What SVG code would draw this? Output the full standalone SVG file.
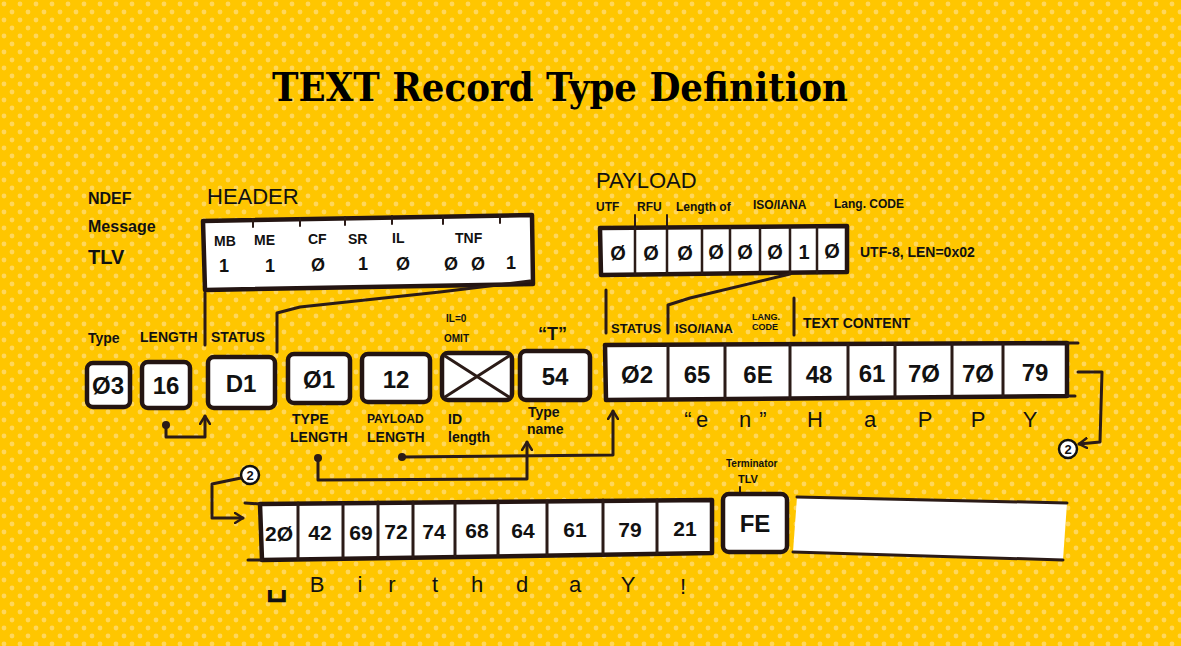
<svg xmlns="http://www.w3.org/2000/svg" width="1181" height="646" viewBox="0 0 1181 646">
<defs>
<pattern id="dots" width="16" height="16" patternUnits="userSpaceOnUse">
<rect width="16" height="16" fill="#FFC600"/>
<circle cx="4" cy="4" r="2.4" fill="#FFD75C"/>
<circle cx="12" cy="12" r="2.4" fill="#FFD75C"/>
</pattern>
<marker id="arr" markerWidth="12" markerHeight="12" refX="9" refY="6" orient="auto" markerUnits="userSpaceOnUse">
<path d="M1,1 L9,6 L1,11" fill="none" stroke="#2b1b17" stroke-width="2.5" stroke-linecap="round" stroke-linejoin="round"/>
</marker>
<marker id="dot" markerWidth="10" markerHeight="10" refX="5" refY="5" markerUnits="userSpaceOnUse">
<circle cx="5" cy="5" r="4" fill="#2b1b17"/>
</marker>
</defs>
<style>
.box{fill:#fff;stroke:#241512;stroke-width:4.5;stroke-linejoin:round}
.ln{fill:none;stroke:#2b1b17;stroke-width:3;stroke-linecap:round;stroke-linejoin:round}
.thin{fill:none;stroke:#2b1b17;stroke-width:2;stroke-linecap:round}
.t{font-family:"Liberation Sans",Arial,sans-serif;fill:#111}
.big{font-size:24px;font-weight:bold;text-anchor:middle}
.mid{font-size:20px;font-weight:bold;text-anchor:middle}
.lbl{font-size:14px;font-weight:bold}
.sm{font-size:10px;font-weight:bold}
.hd{font-size:22px}
.ch{font-size:22px;text-anchor:middle}
.title{font-family:"DejaVu Serif",serif;font-weight:bold;font-size:40px;fill:#000}
</style>
<rect width="1181" height="646" fill="url(#dots)"/>

<text class="title" x="272" y="101" textLength="576" lengthAdjust="spacingAndGlyphs">TEXT Record Type Definition</text>

<g id="ndef-label">
<text class="t lbl" x="88" y="204" style="font-size:16px">NDEF</text>
<text class="t lbl" x="88" y="232" style="font-size:16px">Message</text>
<text class="t lbl" x="88" y="264" style="font-size:20px">TLV</text>
</g>

<g id="header">
<text class="t hd" x="207" y="204">HEADER</text>
<path class="box" d="M203,221 L532,215 L533,284 L205,290 Z"/>
<path class="thin" d="M253,219 v8 M300,218 v8 M345,217 v8 M392,216 v8 M443,216 v8 M500,215 v8"/>
<text class="t lbl" x="214" y="246">MB</text>
<text class="t lbl" x="254" y="245">ME</text>
<text class="t lbl" x="308" y="244">CF</text>
<text class="t lbl" x="348" y="244">SR</text>
<text class="t lbl" x="392" y="243">IL</text>
<text class="t lbl" x="455" y="243">TNF</text>
<g class="t mid" style="font-size:18px">
<text x="224" y="272">1</text><text x="270" y="272">1</text><text x="318" y="271">Ø</text><text x="363" y="270">1</text><text x="403" y="270">Ø</text><text x="451" y="270">Ø</text><text x="478" y="270">Ø</text><text x="511" y="269">1</text>
</g>
</g>

<g id="payload-bits">
<text class="t hd" x="596" y="188">PAYLOAD</text>
<text class="t" x="596" y="211" style="font-size:12px;font-weight:bold">UTF</text>
<text class="t" x="637" y="211" style="font-size:12px;font-weight:bold">RFU</text>
<text class="t" x="676" y="211" style="font-size:12px;font-weight:bold">Length of</text>
<text class="t" x="753" y="209" style="font-size:12px;font-weight:bold">ISO/IANA</text>
<text class="t" x="834" y="208" style="font-size:12px;font-weight:bold">Lang. CODE</text>
<path class="thin" d="M635,215 v14 M667,215 v14"/>
<path class="box" d="M600,228 L847,226 L847,272 L601,275 Z"/>
<path class="thin" style="stroke-width:2.5" d="M635,228 v46 M667,227 v46 M702,227 v46 M730,227 v46 M760,227 v46 M790,227 v46 M817,227 v46"/>
<g class="t mid">
<text x="618" y="260">Ø</text><text x="651" y="260">Ø</text><text x="685" y="260">Ø</text><text x="716" y="259">Ø</text><text x="745" y="259">Ø</text><text x="775" y="259">Ø</text><text x="804" y="259">1</text><text x="832" y="258">Ø</text>
</g>
<text class="t lbl" x="860" y="257">UTF-8, LEN=0x02</text>
</g>

<g id="middle-labels">
<text class="t lbl" x="88" y="343">Type</text>
<text class="t lbl" x="140" y="342">LENGTH</text>
<text class="t lbl" x="211" y="342">STATUS</text>
<text class="t sm" x="446" y="322">IL=0</text>
<text class="t sm" x="444" y="342">OMIT</text>
<text class="t hd" x="538" y="340" style="font-size:18px;font-weight:bold">“T”</text>
<text class="t lbl" x="611" y="333" style="font-size:13px">STATUS</text>
<text class="t lbl" x="675" y="333" style="font-size:13px">ISO/IANA</text>
<text class="t" x="752" y="320" style="font-size:9px;font-weight:bold">LANG.</text>
<text class="t" x="752" y="330" style="font-size:9px;font-weight:bold">CODE</text>
<text class="t lbl" x="803" y="328">TEXT CONTENT</text>
</g>

<g id="node-03"><rect class="box" x="87" y="363" width="43" height="44" rx="6"/><text class="t big" x="108" y="394">Ø3</text></g>
<g id="node-16"><rect class="box" x="142" y="362" width="48" height="46" rx="6"/><text class="t big" x="166" y="394">16</text></g>
<g id="node-D1"><rect class="box" x="208" y="357" width="67" height="51" rx="6"/><text class="t big" x="241" y="392">D1</text></g>
<g id="node-01"><rect class="box" x="288" y="354" width="62" height="49" rx="6"/><text class="t big" x="319" y="388">Ø1</text></g>
<g id="node-12"><rect class="box" x="362" y="354" width="68" height="48" rx="6"/><text class="t big" x="396" y="388">12</text></g>
<g id="node-id"><rect class="box" x="442" y="353" width="70" height="47" rx="6"/><path class="ln" d="M445,356 L509,397 M509,356 L445,397"/></g>
<g id="node-54"><rect class="box" x="520" y="351" width="70" height="49" rx="6"/><text class="t big" x="555" y="385">54</text></g>

<g id="middle-below">
<text class="t lbl" x="292" y="424">TYPE</text>
<text class="t lbl" x="290" y="442">LENGTH</text>
<text class="t" x="367" y="423" style="font-size:12px;font-weight:bold">PAYLOAD</text>
<text class="t lbl" x="367" y="442">LENGTH</text>
<text class="t lbl" x="448" y="424">ID</text>
<text class="t lbl" x="448" y="442">length</text>
<text class="t lbl" x="528" y="417">Type</text>
<text class="t lbl" x="527" y="434">name</text>
</g>

<g id="payload-row">
<path class="box" d="M605,345 L1067,343 L1067,396 L606,400 Z"/>
<path class="ln" d="M1067,343 L1078,343 M1067,396 L1075,396"/>
<path class="thin" style="stroke-width:3" d="M668,345 v54 M725,345 v54 M790,344 v54 M848,344 v53 M895,344 v53 M952,344 v53 M1003,344 v52"/>
<g class="t big">
<text x="637" y="383">Ø2</text><text x="697" y="383">65</text><text x="758" y="383">6E</text><text x="819" y="383">48</text><text x="872" y="382">61</text><text x="924" y="382">7Ø</text><text x="978" y="382">7Ø</text><text x="1035" y="381">79</text>
</g>
<g class="t ch">
<text x="688" y="427">“</text><text x="702" y="427">e</text><text x="745" y="427">n</text><text x="763" y="427">”</text><text x="815" y="427">H</text><text x="870" y="427">a</text><text x="925" y="427">P</text><text x="978" y="427">P</text><text x="1030" y="427">Y</text>
</g>
</g>

<g id="circle-2a"><circle cx="1068" cy="449" r="9" fill="#fff" stroke="#111" stroke-width="2.5"/><text class="t" x="1068" y="454" style="font-size:13px;font-weight:bold;text-anchor:middle">2</text></g>
<g id="circle-2b"><circle cx="250" cy="475" r="9" fill="#fff" stroke="#111" stroke-width="2.5"/><text class="t" x="250" y="480" style="font-size:13px;font-weight:bold;text-anchor:middle">2</text></g>

<g id="bottom-row">
<path class="box" d="M260,504 L712,500 L712,553 L262,560 Z"/>
<path class="ln" d="M245,503 L260,504 M248,560 L262,560"/>
<path class="thin" style="stroke-width:3" d="M298,503 v56 M343,503 v55 M378,502 v55 M413,502 v55 M455,502 v54 M498,501 v54 M547,501 v54 M603,500 v54 M657,500 v53"/>
<g class="t mid" style="font-size:21px">
<text x="279" y="541">2Ø</text><text x="320" y="540">42</text><text x="361" y="540">69</text><text x="396" y="539">72</text><text x="434" y="539">74</text><text x="477" y="538">68</text><text x="523" y="538">64</text><text x="575" y="537">61</text><text x="630" y="537">79</text><text x="685" y="536">21</text>
</g>
<g class="t ch">
<text x="277" y="594" style="font-size:34px;font-weight:bold">␣</text><text x="317" y="592">B</text><text x="360" y="592">i</text><text x="392" y="592">r</text><text x="435" y="592">t</text><text x="477" y="592">h</text><text x="522" y="592">d</text><text x="575" y="592">a</text><text x="628" y="592">Y</text><text x="683" y="594">!</text>
</g>
</g>

<g id="terminator">
<text class="t sm" x="726" y="467">Terminator</text>
<text class="t sm" x="738" y="483" style="font-size:11px">TLV</text>
<path class="thin" d="M740,487 v7"/>
<rect class="box" x="723" y="494" width="64" height="58" rx="6"/>
<text class="t big" x="755" y="532">FE</text>
</g>

<g id="empty-strip">
<path d="M797,497 L1067,503 L1063,560 L793,552 Z" fill="#fff"/>
<path class="ln" d="M797,497 L1067,503 M793,552 L1063,560"/>
</g>

<g id="connectors">
<path class="ln" d="M205,293 L205,345"/>
<path class="ln" d="M530,281 L440,292 L300,307 L277,313 L277,352"/>
<path class="ln" d="M606,290 L606,333"/>
<path class="ln" d="M790,274 L690,298 L668,305 L668,333"/>
<path class="ln" d="M794,298 L794,335"/>
<path class="ln" marker-start="url(#dot)" marker-end="url(#arr)" d="M166,425 L166,437 L205,437 L205,416"/>
<path class="ln" marker-start="url(#dot)" marker-end="url(#arr)" d="M318,458 L318,480 L527,479 L527,442"/>
<path class="ln" marker-start="url(#dot)" marker-end="url(#arr)" d="M402,457 L613,455 L613,411"/>
<path class="ln" marker-end="url(#arr)" d="M1078,372 L1102,372 L1100,442 L1079,444"/>
<path class="ln" marker-end="url(#arr)" d="M241,478 L212,484 L212,518 L243,518"/>
</g>
</svg>
